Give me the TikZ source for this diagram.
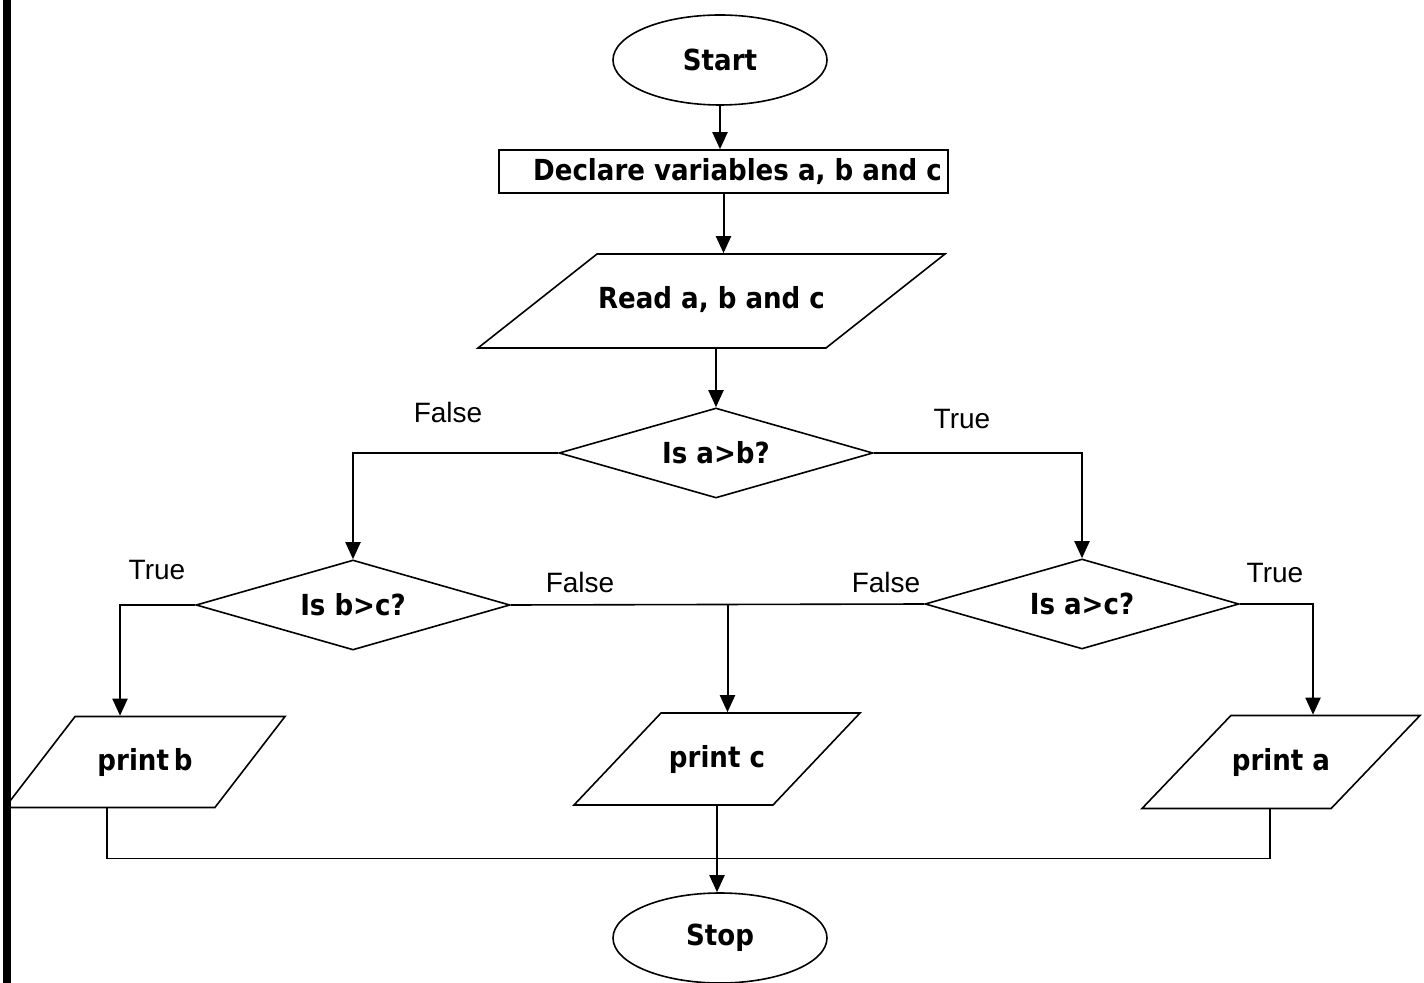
\documentclass[tikz,border=0pt]{standalone}
\usepackage{fontspec}
\setmainfont{DejaVu Sans Condensed}
\newfontfamily\labelfont{Liberation Sans}
\usetikzlibrary{arrows.meta,shapes.geometric,calc}
\tikzstyle{arrow} = [line width=1pt,-{Triangle[width=7.5pt,length=8.5pt]}]
\tikzstyle{line} = [line width=0.8pt]
\tikzstyle{terminal} = [ellipse, draw, line width=0.8pt, minimum width=107pt, minimum height=45pt, inner sep=0pt, font=\fontsize{14.5}{17}\selectfont\bfseries]
\tikzstyle{process} = [rectangle, draw, line width=0.8pt, minimum width=224.5pt, minimum height=21.5pt, inner sep=0pt, font=\fontsize{14.5}{17}\selectfont\bfseries]
\tikzstyle{decision} = [diamond, draw, line width=0.8pt, aspect=3.5, minimum width=157pt, minimum height=45pt, inner sep=0pt, font=\fontsize{14.5}{17}\selectfont\bfseries]
\tikzstyle{io} = [trapezium, draw, line width=0.8pt, trapezium stretches body=true, inner xsep=0pt, text height=11pt, text depth=3pt, font=\fontsize{14.5}{17}\selectfont\bfseries]
\tikzstyle{tag} = [inner sep=0pt, font=\labelfont\fontsize{14}{16}\selectfont]

\begin{document}
\begin{tikzpicture}[x=0.5pt, y=-0.5pt]
\useasboundingbox (0,0) rectangle (1424,983);
\fill (3,0) rectangle (11,983);

% Main column
\node (start) [terminal] at (720,60) {Start};
\node (decl) [process] at (723.5,171.5) {\hspace*{14pt}Declare variables a, b and c};
\node (read) [io, trapezium left angle=38.3, trapezium right angle=141.7, minimum width=233.5pt, inner ysep=16.5pt] at (711.5,301) {Read a, b and c};
\node (ab) [decision] at (716,453) {Is a>b?};

% Second level tests
\node (bc) [decision] at (353,605) {Is b>c?};
\node (ac) [decision] at (1082,604) {Is a>c?};

% Outputs
\node (pb) [io, trapezium left angle=52.4, trapezium right angle=127.6, minimum width=140pt, inner ysep=15.75pt] at (145,762) {print\,b};
\node (pc) [io, trapezium left angle=46.6, trapezium right angle=133.4, minimum width=143pt, inner ysep=16pt] at (717,759) {print c};
\node (pa) [io, trapezium left angle=46.3, trapezium right angle=133.7, minimum width=139pt, inner ysep=16.25pt] at (1281,762) {print a};
\node (stop) [terminal] at (720,938) {Stop};

% Branch labels
\node (f1) [tag] at (448,412) {False};
\node (t1) [tag] at (962,419) {True};
\node (t2) [tag] at (157,570) {True};
\node (f2) [tag] at (580,582) {False};
\node (f3) [tag] at (886,582) {False};
\node (t3) [tag] at (1275,573) {True};

% Connections
\draw[arrow] (start.south) -- (start.south |- decl.north);
\draw[arrow] (decl.south) -- (decl.south |- read.north);
\draw[arrow] (ab.north |- read.south) -- (ab.north);
\draw[arrow] (ab.west) -| (bc.north);
\draw[arrow] (ab.east) -| (ac.north);
\draw[arrow] (bc.west) -| ($(pb.north)+(-25,0)$);
\draw[arrow] (ac.east) -| ($(pa.north)+(32,0)$);
\draw[line] (bc.east) -- (ac.west);
\coordinate (mid) at ($(bc.east)!0.5!(ac.west)+(10,0)$);
\draw[arrow] (mid) -- (mid |- pc.north);
\coordinate (pbout) at ($(pb.south)+(-38,0)$);
\coordinate (paout) at ($(pa.south)+(-11,0)$);
\draw[line] (pbout) |- ($(paout)+(0,49)$) -- (paout);
\draw[arrow] (pc.south) -- (pc.south |- stop.north);
\end{tikzpicture}
\end{document}
